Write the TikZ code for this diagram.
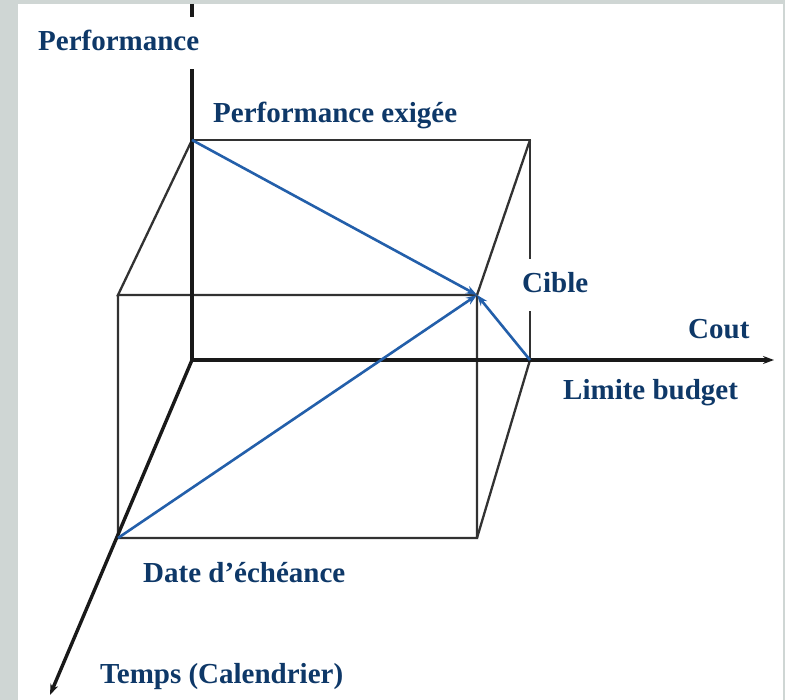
\documentclass[tikz,border=0pt]{standalone}
\usepackage{fontspec}
\setmainfont{Liberation Serif}
\usetikzlibrary{arrows.meta}
\definecolor{framegray}{RGB}{207,214,212}
\definecolor{labelblue}{RGB}{14,56,104}
\definecolor{edgegray}{RGB}{50,50,50}
\definecolor{axisblack}{RGB}{25,25,25}
\definecolor{pathblue}{RGB}{35,95,170}

\begin{document}
\begin{tikzpicture}[
    x=1pt, y=-1pt,
    >={Stealth[length=11pt, width=8pt]},
    lbl/.style={anchor=base west, text=labelblue, font=\fontsize{29}{34}\selectfont\bfseries,
        inner xsep=10pt, inner ysep=14pt, text height=20pt, text depth=4pt},
    masklbl/.style={lbl, fill=white},
    edge/.style={edgegray, line width=2.3pt},
    axis/.style={axisblack, line width=3.4pt},
    aim/.style={pathblue, line width=2.6pt, ->}
]

% Frame
\fill[framegray] (0,0) rectangle (785,700);
\fill[white] (18,4) rectangle (783,700);
\useasboundingbox (0,0) rectangle (785,700);

% Corners of the box
\coordinate (O) at (192,360);
\coordinate (P) at (192,140);
\coordinate (Q) at (530,140);
\coordinate (L) at (530,360);
\coordinate (F) at (118,295);
\coordinate (C) at (477,295);
\coordinate (D) at (118,538);
\coordinate (G) at (477,538);

% Axis ends
\coordinate (Ytop) at (192,4);
\coordinate (Xend) at (774,360);
\coordinate (Tend) at (50,695);

% Box edges
\draw[edge] (P) -- (Q) -- (L);
\draw[edge] (P) -- (F) -- (C) -- (G) -- (D) -- (F);
\draw[edge] (Q) -- (C);
\draw[edge] (L) -- (G);

% Axes
\draw[axis] (Ytop) -- (O);
\draw[axis, ->] (O) -- (Xend);
\draw[axis, ->] (O) -- (Tend);

% Paths to the target
\draw[aim] (P) -- (C);
\draw[aim] (D) -- (C);
\draw[aim] (L) -- (C);

% Labels
\node[masklbl] (perf) at (28,51) {Performance};
\node[lbl] (perfex) at (203,123) {Performance exigée};
\node[masklbl] (cible) at (512,293) {Cible};
\node[lbl] (cout) at (678,339) {Cout};
\node[lbl] (budget) at (553,400) {Limite budget};
\node[lbl] (date) at (133,582) {Date d’échéance};
\node[lbl] (temps) at (90,683) {Temps (Calendrier)};

\end{tikzpicture}
\end{document}
